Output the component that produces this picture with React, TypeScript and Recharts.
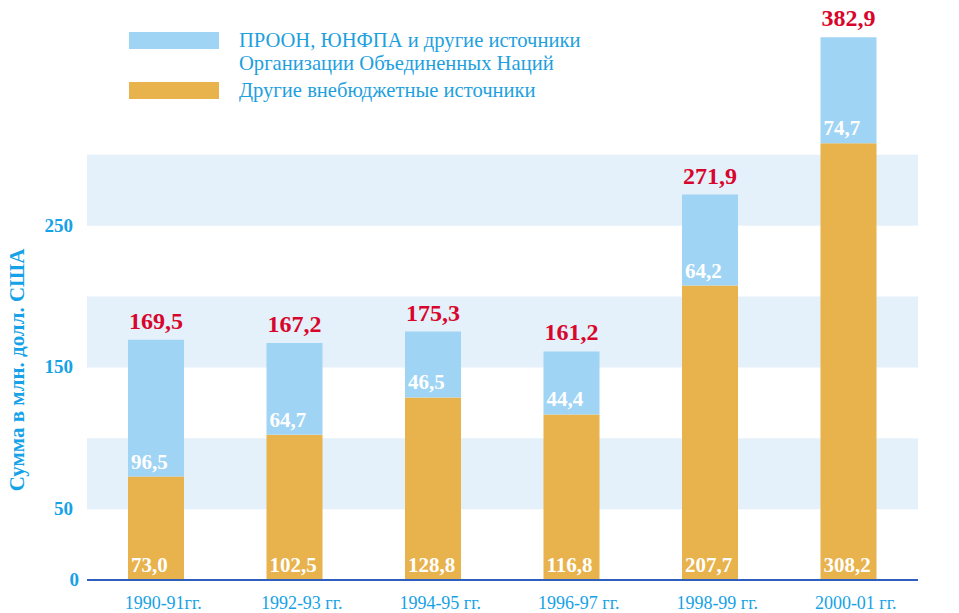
import React from 'react';
import {
  BarChart,
  Bar,
  XAxis,
  YAxis,
  ReferenceArea,
  LabelList,
  Legend,
  Label,
} from 'recharts';

// periods (x categories)
const periods = ['1990-91гг.', '1992-93 гг.', '1994-95 гг.', '1996-97 гг.', '1998-99 гг.', '2000-01 гг.'];
// ПРООН, ЮНФПА и другие источники ООН
const unSources = [96.5, 64.7, 46.5, 44.4, 64.2, 74.7];
// Другие внебюджетные источники
const extraBudget = [73.0, 102.5, 128.8, 116.8, 207.7, 308.2];
// totals printed above the bars
const totals = [169.5, 167.2, 175.3, 161.2, 271.9, 382.9];

const leftTicks = [0, 50, 150, 250];
const rightTicks = [100, 200, 300];
const bands = [
  [50, 100],
  [150, 200],
  [250, 300],
];

const data = periods.map((period, i) => ({
  period,
  un: unSources[i],
  extra: extraBudget[i],
  total: totals[i],
}));

const BLUE_BAR = '#a0d4f4';
const ORANGE_BAR = '#e8b24c';
const BAND = '#e4f0fa';
const AXIS_BLUE = '#16a2e6';
const RED = '#d8062c';
const SERIF = '"Liberation Serif", "Times New Roman", serif';

const fmt = (v: number) => Number(v).toFixed(1).replace('.', ',');

const LeftTick = ({ x, y, payload }: any) => (
  <text
    x={payload.value === 0 ? x : x - 6}
    y={y}
    dy={6}
    textAnchor="end"
    fill={AXIS_BLUE}
    fontSize={19}
    fontWeight="bold"
    fontFamily={SERIF}
  >
    {payload.value}
  </text>
);

const RightTick = ({ x, y, payload }: any) => (
  <text x={x + 4} y={y} dy={6} textAnchor="start" fill={AXIS_BLUE} fontSize={19} fontWeight="bold" fontFamily={SERIF}>
    {payload.value}
  </text>
);

const PeriodTick = ({ x, y, payload }: any) => (
  <text x={x + 7} y={y + 21} textAnchor="middle" fill={AXIS_BLUE} fontSize={18} fontFamily={SERIF}>
    {payload.value}
  </text>
);

// white value inside a segment, near its lower edge
const InnerValue = ({ x, y, height, value }: any) => (
  <text x={x + 3} y={y + height - 8} fill="#fff" fontSize={21} fontWeight="bold" fontFamily={SERIF}>
    {fmt(value)}
  </text>
);

const TotalValue = ({ x, y, width, value }: any) => (
  <text x={x + width / 2} y={y - 11} textAnchor="middle" fill={RED} fontSize={24} fontWeight="bold" fontFamily={SERIF}>
    {fmt(value)}
  </text>
);

const renderLegend = ({ payload }: any) => {
  const items = [...(payload || [])].reverse();
  return (
    <div style={{ fontFamily: SERIF, fontSize: 20.6, lineHeight: '23px', color: '#1ea0de' }}>
      {items.map((item: any) => (
        <div key={item.value} style={{ display: 'flex', alignItems: 'flex-start', marginBottom: 4 }}>
          <div style={{ width: 90, height: 17, marginTop: 3, marginRight: 20, background: item.color, flex: 'none' }} />
          <div style={{ whiteSpace: 'pre-line' }}>{item.value}</div>
        </div>
      ))}
    </div>
  );
};

export default function App() {
  return (
    <div style={{ position: 'absolute', left: 0, top: 0, background: '#fff' }}>
      <BarChart
        width={959}
        height={613}
        data={data}
        margin={{ top: 13, right: 0, bottom: 0, left: 0 }}
        barSize={56}
      >
        {bands.map(([a, b]) => (
          <ReferenceArea key={a} yAxisId="left" y1={a} y2={b} fill={BAND} fillOpacity={1} stroke="none" />
        ))}
        <XAxis
          dataKey="period"
          height={33}
          axisLine={{ stroke: '#2e5fbf', strokeWidth: 2 }}
          tickLine={false}
          tick={<PeriodTick />}
          interval={0}
        />
        <YAxis
          yAxisId="left"
          width={87}
          domain={[0, 400]}
          ticks={leftTicks}
          axisLine={false}
          tickLine={false}
          tick={<LeftTick />}
        >
          <Label
            content={() => (
              <text
                transform="translate(24,370) rotate(-90)"
                textAnchor="middle"
                fill={AXIS_BLUE}
                fontSize={21}
                fontWeight="bold"
                fontFamily={SERIF}
              >
                Сумма в млн. долл. США
              </text>
            )}
          />
        </YAxis>
        <YAxis
          yAxisId="right"
          orientation="right"
          width={41}
          domain={[0, 400]}
          ticks={rightTicks}
          axisLine={false}
          tickLine={false}
          tick={<RightTick />}
        />
        <Legend
          layout="horizontal"
          verticalAlign="middle"
          align="center"
          wrapperStyle={{ top: 29, left: 129, width: 520 }}
          content={renderLegend}
        />
        <Bar
          yAxisId="left"
          dataKey="extra"
          stackId="s"
          name="Другие внебюджетные источники"
          fill={ORANGE_BAR}
          isAnimationActive={false}
        >
          <LabelList dataKey="extra" content={<InnerValue />} />
        </Bar>
        <Bar
          yAxisId="left"
          dataKey="un"
          stackId="s"
          name={'ПРООН, ЮНФПА и другие источники\nОрганизации Объединенных Наций'}
          fill={BLUE_BAR}
          isAnimationActive={false}
        >
          <LabelList dataKey="un" content={<InnerValue />} />
          <LabelList dataKey="total" content={<TotalValue />} />
        </Bar>
      </BarChart>
    </div>
  );
}
